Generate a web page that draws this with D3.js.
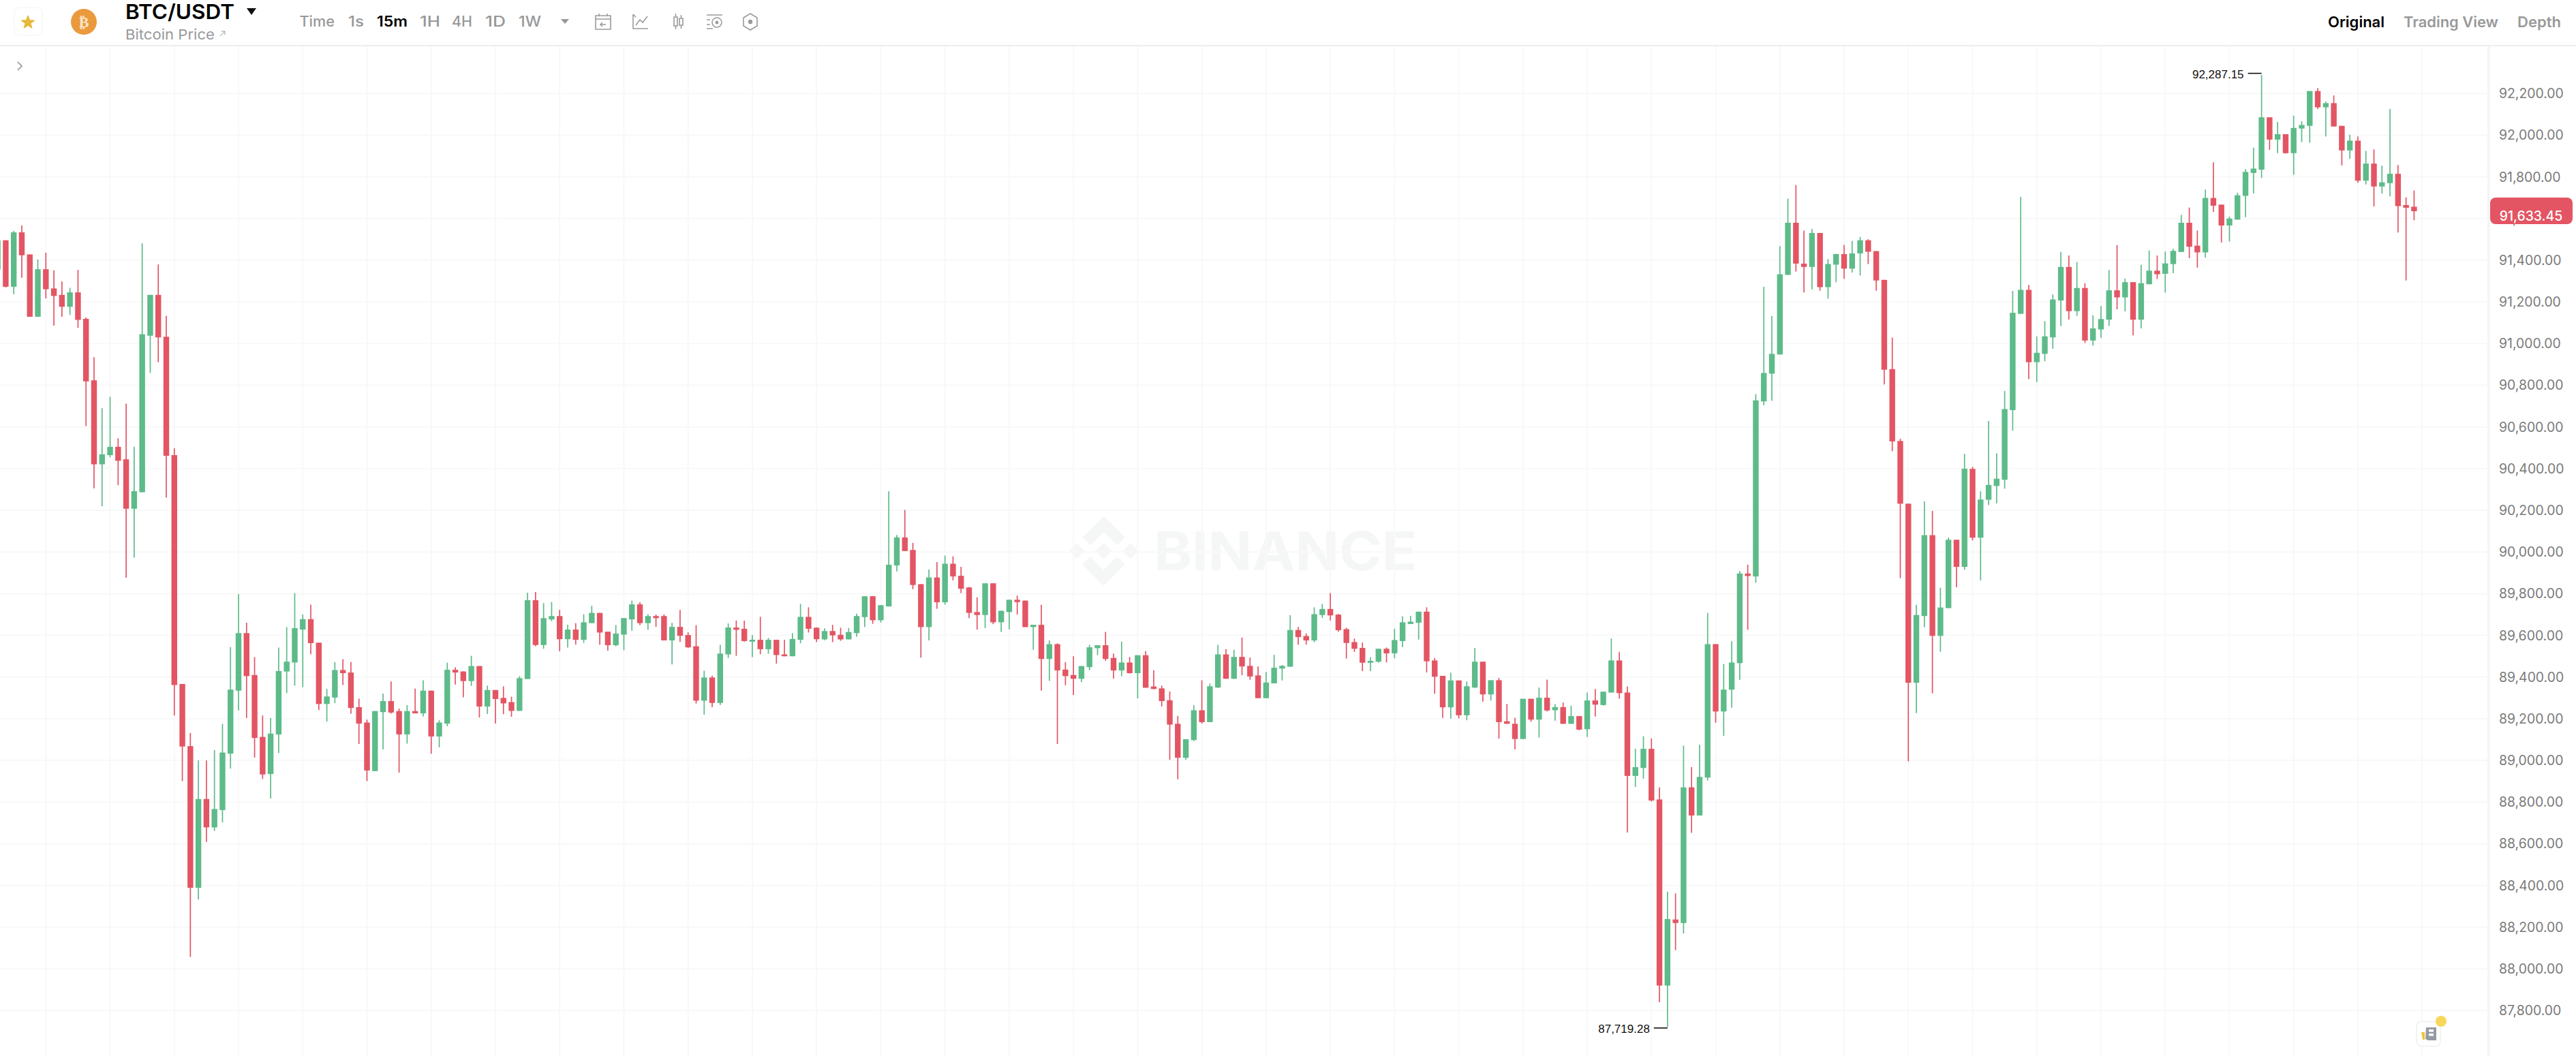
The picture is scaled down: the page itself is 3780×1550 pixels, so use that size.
<!DOCTYPE html>
<html><head><meta charset="utf-8">
<script src="https://cdn.jsdelivr.net/npm/d3@7/dist/d3.min.js"></script>
<style>html,body{margin:0;padding:0;background:#fff;overflow:hidden}svg{display:block}text{font-family:Inter,Lato,sans-serif}</style>
</head><body><svg id="c" width="3780" height="1550"></svg>
<script>
const opens=[91354,
91494,91271,91532,91426,91127,91355,91263,91232,91175,91244,
91117,90822,90419,90463,90503,90443,90206,90285,91036,91232,
91031,90463,89365,89067,88387,88813,88677,88760,89031,89333,
89609,89408,89111,88933,89123,89425,89468,89626,89676,89563,
89269,89300,89432,89420,89254,89180,88947,89230,89283,89235,
89123,89235,89224,89333,89113,89175,89433,89425,89379,89451,
89257,89336,89298,89278,89236,89389,89767,89552,89675,89691,
89580,89626,89577,89657,89706,89616,89551,89602,89675,89747,
89657,89691,89691,89574,89639,89600,89546,89285,89396,89274,
89507,89636,89630,89568,89577,89532,89577,89507,89498,89577,
89687,89635,89579,89619,89601,89579,89609,89686,89786,89671,
89737,89934,90068,90008,89844,89638,89876,89757,89942,89884,
89828,89710,89696,89848,89661,89710,89769,89765,89638,89649,
89485,89556,89434,89408,89390,89446,89537,89551,89490,89430,
89468,89417,89503,89353,89344,89287,89174,89011,89096,89239,
89182,89348,89507,89390,89495,89452,89406,89297,89368,89439,
89448,89624,89595,89574,89696,89725,89698,89628,89566,89538,
89467,89472,89534,89512,89571,89653,89659,89712,89478,89404,
89253,89382,89215,89348,89472,89315,89383,89186,89174,89101,
89294,89194,89299,89239,89254,89174,89211,89148,89286,89264,
89324,89478,89324,88924,88962,89054,88811,87918,88235,88218,
88869,88734,88916,89556,89233,89338,89465,89895,89881,90721,
90854,90946,91328,91578,91382,91366,91529,91269,91377,91428,
91358,91431,91494,91442,91304,90876,90531,90230,89371,89691,
90079,89596,89729,90057,89927,90397,90067,90249,90315,90345,
90679,91141,91256,90909,90949,91028,91205,91366,91154,91265,
91013,91066,91113,91254,91220,91293,91113,91283,91348,91333,
91380,91438,91578,91468,91436,91697,91665,91565,91593,91707,
91817,91833,92084,91977,92003,91912,92030,92043,92210,92132,
92152,92043,91925,91972,91780,91862,91752,91768,91813,91663,
91655];
const closes=[91494,
91271,91532,91422,91127,91355,91259,91227,91175,91244,91112,
90817,90419,90467,90503,90436,90206,90290,91043,91232,91028,
90460,89360,89065,88387,88813,88677,88765,89036,89338,89609,
89403,89106,88931,89127,89427,89472,89633,89676,89561,89269,
89305,89432,89417,89250,89175,88950,89235,89283,89228,89123,
89235,89224,89333,89113,89180,89433,89420,89379,89451,89257,
89336,89293,89272,89236,89393,89767,89552,89681,89691,89580,
89626,89577,89661,89706,89612,89551,89607,89681,89747,89657,
89691,89681,89574,89639,89596,89541,89285,89396,89274,89511,
89636,89625,89571,89577,89532,89577,89504,89498,89581,89687,
89630,89580,89619,89598,89579,89614,89691,89786,89671,89743,
89937,90068,90003,89840,89638,89876,89757,89942,89881,89822,
89706,89696,89848,89661,89716,89769,89758,89638,89649,89485,
89556,89430,89403,89390,89451,89541,89551,89485,89430,89468,
89417,89503,89347,89341,89283,89170,89011,89100,89239,89182,
89354,89507,89390,89495,89449,89401,89297,89372,89443,89452,
89624,89590,89574,89700,89725,89694,89623,89562,89534,89467,
89476,89534,89512,89576,89661,89664,89712,89474,89400,89253,
89382,89215,89354,89472,89315,89383,89182,89174,89101,89294,
89194,89299,89238,89254,89174,89211,89146,89286,89266,89328,
89478,89321,88924,88966,89054,88806,87918,88237,88218,88869,
88734,88919,89556,89233,89338,89468,89895,89883,90726,90857,
90949,91331,91578,91382,91366,91529,91269,91380,91428,91358,
91431,91494,91439,91301,90873,90529,90230,89371,89696,90079,
89596,89732,90057,89927,90398,90067,90250,90320,90350,90684,
91146,91256,90909,90954,91033,91210,91366,91154,91265,91013,
91071,91116,91254,91220,91293,91113,91288,91348,91331,91383,
91443,91578,91463,91436,91697,91660,91565,91598,91710,91822,
91838,92084,91977,92003,91912,92033,92047,92210,92132,92152,
92040,91925,91972,91780,91862,91752,91772,91813,91658,91650,
91633.45];
const highs=[91510,
91494,91539,91566,91426,91402,91434,91350,91297,91266,91352,
91124,90933,90688,90743,90544,90710,90503,91479,91232,91378,
91132,90496,89365,89130,88998,88998,89048,89173,89542,89796,
89659,89494,89214,89202,89540,89638,89801,89698,89746,89563,
89341,89470,89484,89470,89295,89194,89235,89319,89377,89247,
89264,89343,89383,89333,89191,89467,89445,89425,89500,89451,
89357,89336,89354,89304,89403,89803,89806,89753,89758,89721,
89649,89657,89700,89740,89706,89616,89648,89681,89765,89757,
89700,89698,89699,89658,89720,89613,89647,89429,89405,89553,
89656,89670,89669,89600,89687,89586,89577,89577,89609,89749,
89733,89637,89632,89649,89635,89634,89702,89786,89786,89743,
90290,90080,90200,90042,89844,89914,89950,89981,89977,89927,
89831,89781,89848,89848,89716,89769,89789,89765,89649,89745,
89574,89560,89470,89498,89451,89553,89551,89615,89511,89568,
89495,89503,89523,89431,89357,89329,89212,89100,89263,89383,
89367,89553,89532,89529,89588,89492,89449,89422,89505,89456,
89695,89639,89608,89733,89749,89801,89701,89635,89583,89564,
89494,89534,89540,89630,89689,89692,89712,89733,89490,89404,
89419,89382,89377,89538,89472,89383,89394,89269,89203,89294,
89294,89348,89386,89269,89276,89261,89211,89324,89341,89328,
89583,89518,89353,89054,89114,89104,88869,88369,88360,89069,
88966,89073,89706,89556,89461,89570,89907,89937,90756,91271,
91130,91466,91694,91759,91540,91548,91529,91404,91428,91472,
91491,91510,91499,91442,91304,91027,90542,90230,89745,90241,
90195,89827,90068,90057,90469,90407,90289,90627,90472,90771,
91251,91702,91280,91033,91106,91234,91438,91421,91390,91288,
91134,91178,91351,91471,91310,91293,91376,91445,91421,91440,
91453,91616,91651,91541,91737,91868,91665,91608,91722,91835,
91938,92287.15,92084,92062,92003,92092,92065,92210,92224,92160,
92189,92043,92000,91992,91923,91930,91852,92124,91855,91700,
91733];
const lows=[91300,
91268,91235,91314,91127,91127,91215,91084,91127,91136,91074,
90602,90304,90218,90453,90319,89875,89971,90285,90858,90909,
90259,89214,88899,88056,88331,88607,88660,88701,88959,89238,
89202,89012,88909,88816,89034,89321,89357,89350,89508,89240,
89185,89273,89360,89223,89077,88899,88947,89051,89223,88940,
89079,89224,89209,89030,89061,89162,89362,89301,89356,89204,
89221,89175,89220,89208,89236,89389,89546,89534,89666,89522,
89540,89554,89562,89657,89554,89524,89546,89527,89621,89648,
89625,89639,89574,89459,89567,89537,89271,89218,89254,89264,
89490,89500,89568,89494,89508,89510,89463,89498,89498,89560,
89612,89566,89575,89566,89572,89579,89591,89639,89654,89660,
89737,89905,90003,89820,89491,89574,89726,89746,89862,89801,
89681,89626,89633,89652,89615,89627,89698,89638,89529,89333,
89380,89077,89359,89312,89374,89431,89504,89476,89391,89403,
89415,89296,89347,89340,89257,89001,88908,89002,89091,89175,
89182,89346,89390,89390,89407,89385,89297,89297,89368,89382,
89448,89554,89554,89565,89682,89670,89616,89487,89519,89427,
89427,89467,89469,89488,89541,89653,89578,89420,89318,89202,
89199,89200,89191,89345,89281,89285,89103,89174,89051,89101,
89184,89108,89233,89189,89174,89174,89143,89111,89209,89261,
89324,89294,88652,88871,88911,88801,87838,87719.28,88088,88168,
88651,88734,88902,89179,89116,89251,89385,89625,89851,90702,
90724,90946,91328,91344,91244,91258,91252,91214,91293,91309,
91339,91325,91380,91252,90802,90482,89873,88994,89225,89637,
89320,89520,89729,89829,89913,90054,89862,90224,90232,90302,
90581,91141,90828,90813,90914,90973,91083,91114,91131,91001,
90989,91026,91083,91163,91153,91038,91071,91283,91308,91243,
91336,91438,91408,91363,91411,91630,91483,91488,91593,91605,
91718,91793,91928,91912,91910,91808,91965,91962,92124,91992,
92040,91853,91885,91770,91762,91656,91718,91705,91531,91301,
91590];
const priceTicks=[92200,92000,91800,91600,91400,91200,91000,90800,90600,90400,90200,90000,89800,89600,89400,89200,89000,88800,88600,88400,88200,88000,87800];
const lastPrice=91633.45, maxPrice=92287.15, minPrice=87719.28;
const intervals=["Time","1s","15m","1H","4H","1D","1W"];
const views=["Original","Trading View","Depth"];
const symbolName="BTC/USDT", subName="Bitcoin Price", watermark="BINANCE";

const GREEN="#5dbb89",RED="#e35563",GRID="#f8f8f9",GRAY="#989898";
const svg=d3.select("#c");
const n=Math.min(opens.length,highs.length,lows.length,closes.length);
const x=d3.scaleLinear().domain([1,301]).range([8.4,3542.4]);
const y=d3.scaleLinear().domain([87800,92200]).range([1482.7,136.7]);
const plotTop=67,plotBottom=1550,axisX=3652;

// watermark
const wm=svg.append("g");
wm.append("path").attr("transform","translate(1568.5,757.7) scale(0.806)").attr("fill","#f5f6f6")
 .attr("d","M38.73 53.2l24.59-24.58 24.6 24.6 14.3-14.31L63.32 0 24.42 38.9zM0 63.31l14.3-14.31 14.31 14.31-14.31 14.3zM38.73 73.41l24.59 24.59 24.6-24.6 14.31 14.29-38.9 38.91-38.91-38.88-.02-.02zM98 63.31l14.3-14.31 14.31 14.3-14.31 14.32zM77.83 63.3L63.32 48.78 52.59 59.51l-1.24 1.23-2.54 2.54 14.51 14.5 14.51-14.5z");
wm.append("text").attr("x",1693).attr("y",837).attr("font-size",79).attr("font-weight",700).attr("fill","#f5f6f6")
 .attr("textLength",386).attr("lengthAdjust","spacingAndGlyphs").text(watermark);

// grid
const gridIdx=d3.range(6,303,8);
svg.append("g").selectAll("line").data(gridIdx).join("line")
 .attr("x1",d=>x(d)).attr("x2",d=>x(d)).attr("y1",plotTop).attr("y2",plotBottom).attr("stroke",GRID).attr("stroke-width",2);
svg.append("g").attr("class","hgrid").attr("transform",`translate(${axisX},0)`)
 .call(d3.axisLeft(y).tickValues(priceTicks).tickSize(axisX).tickFormat(""))
 .call(g=>g.select(".domain").remove())
 .call(g=>g.selectAll("line").attr("stroke",GRID).attr("stroke-width",2));
svg.append("rect").attr("x",axisX-2).attr("y",plotTop).attr("width",3.5).attr("height",plotBottom-plotTop).attr("fill","#f5f5f6");

// candles
const idx=d3.range(n);
const col=i=>closes[i]>=opens[i]?GREEN:RED;
const cg=svg.append("g");
cg.selectAll("line.w").data(idx).join("line").attr("class","w")
 .attr("x1",i=>x(i)).attr("x2",i=>x(i)).attr("y1",i=>y(highs[i])).attr("y2",i=>y(lows[i]))
 .attr("stroke",col).attr("stroke-width",1.7);
const bw=8.4;
cg.selectAll("rect.b").data(idx).join("rect").attr("class","b")
 .attr("x",i=>x(i)-bw/2).attr("width",bw)
 .attr("y",i=>y(Math.max(opens[i],closes[i])))
 .attr("height",i=>Math.max(2,Math.abs(y(opens[i])-y(closes[i]))))
 .attr("fill",col);

// axis
svg.append("g").attr("transform","translate(3667,0)")
 .call(d3.axisRight(y).tickValues(priceTicks).tickSize(0).tickPadding(0).tickFormat(d3.format(",.2f")))
 .call(g=>g.select(".domain").remove())
 .call(g=>g.selectAll("text").attr("font-size",19.4).attr("fill","#7a7a7a").attr("dy","0.36em").style("font-family","Inter"));

// last price tag
const tagY=y(lastPrice);
svg.append("rect").attr("x",3654).attr("y",tagY-20).attr("width",121).attr("height",39).attr("rx",8).attr("fill",RED);
svg.append("text").attr("x",3714).attr("y",tagY+14).attr("text-anchor","middle").attr("font-size",19.4).attr("fill","#fff").attr("font-weight",500).text(d3.format(",.2f")(lastPrice));

// extreme annotations
function note(i,price,off,txtOff){
 const xx=x(i),yy=y(price)+off;
 svg.append("line").attr("x1",xx-20).attr("x2",xx).attr("y1",yy).attr("y2",yy).attr("stroke","#111").attr("stroke-width",1.6);
 svg.append("text").attr("x",xx-26).attr("y",yy+txtOff).attr("text-anchor","end").attr("font-size",17).attr("fill","#111")
  .style("font-family","Liberation Sans").text(d3.format(",.2f")(price));
}
note(highs.indexOf(maxPrice),maxPrice,-2.4,7);
note(lows.indexOf(minPrice),minPrice,1.5,7);

// header
svg.append("rect").attr("x",0).attr("y",66).attr("width",3780).attr("height",2.2).attr("fill","#eeeeee");
svg.append("rect").attr("x",21).attr("y",11).attr("width",41).attr("height",41).attr("rx",8).attr("fill","#fff").attr("stroke","#f3f3f3").attr("stroke-width",1);
const star=d3.symbol().type(d3.symbolStar).size(95)();
svg.append("path").attr("d",star).attr("transform","translate(41,33)").attr("fill","#e8b93c").attr("stroke","#e8b93c").attr("stroke-width",2).attr("stroke-linejoin","round");
svg.append("circle").attr("cx",123).attr("cy",32).attr("r",19).attr("fill","#ea9a3c");
svg.append("text").attr("x",123).attr("y",40).attr("text-anchor","middle").attr("font-size",22).attr("font-weight",700).attr("fill","#fbe6c8").style("font-family","DejaVu Sans").text("₿");
svg.append("text").attr("x",184).attr("y",28).attr("font-size",30).attr("font-weight",600).attr("fill","#000").attr("textLength",160).attr("lengthAdjust","spacingAndGlyphs").text(symbolName);
svg.append("path").attr("d","M362,12 L376,12 L369,22 Z").attr("fill","#111");
svg.append("text").attr("x",184).attr("y",58).attr("font-size",20.5).attr("fill",GRAY).attr("textLength",131).attr("lengthAdjust","spacingAndGlyphs").text(subName);
svg.append("path").attr("d","M323,53 L330,46 M325,46 L330,46 L330,51").attr("stroke",GRAY).attr("stroke-width",1).attr("fill","none");

const ivX=[439.5,511,553,616,663,712,761], ivW=[51.5,23,45,30,30,30,33];
svg.append("g").selectAll("text").data(intervals).join("text")
 .attr("x",(d,i)=>ivX[i]).attr("y",39).attr("font-size",21.5).attr("textLength",(d,i)=>ivW[i]).attr("lengthAdjust","spacingAndGlyphs")
 .attr("font-weight",d=>d==="15m"?600:500).attr("fill",d=>d==="15m"?"#000":GRAY).text(d=>d);
svg.append("path").attr("d","M823,28 L835,28 L829,35 Z").attr("fill",GRAY);

// toolbar icons
const ic=svg.append("g").attr("fill","none").attr("stroke","#9a9a9a").attr("stroke-width",1.6);
ic.append("path").attr("d","M874,23 H896 V43 H874 Z M874,28 H896 M879,20 V24 M891,20 V24 M889,36 H881 M884,33 L881,36 L884,39");
ic.append("path").attr("d","M929,21 V42 H951 M933,37 L939,29 L943,33 L950,24 M929,21 L933,25");
ic.append("path").attr("d","M989,25 H994 V38 H989 Z M997,27 H1002 V37 H997 Z M991.5,20 V25 M991.5,38 V43 M999.5,22 V27 M999.5,37 V42");
ic.append("path").attr("d","M1037,22 H1060 M1037,29 H1042 M1037,36 H1042 M1037,42 H1046 M1045,33 a7,7 0 1 0 14,0 a7,7 0 1 0 -14,0");
ic.append("circle").attr("cx",1052).attr("cy",33).attr("r",1.6).attr("fill","#9a9a9a");
ic.append("path").attr("d","M1101,20 L1111,26 V38 L1101,44 L1091,38 V26 Z");
ic.append("circle").attr("cx",1101).attr("cy",32).attr("r",2.4).attr("fill","#9a9a9a");

// right tabs
const tabX=[3416,3527,3694],tabW=[83,139,64];
svg.append("g").selectAll("text").data(views).join("text")
 .attr("x",(d,i)=>tabX[i]).attr("y",40).attr("font-size",22).attr("font-weight",600)
 .attr("textLength",(d,i)=>tabW[i]).attr("lengthAdjust","spacingAndGlyphs")
 .attr("fill",d=>d==="Original"?"#000":"#999").text(d=>d);

// collapse chevron
svg.append("path").attr("d","M26,91 L32,97 L26,103").attr("fill","none").attr("stroke","#a8a8a8").attr("stroke-width",2);

// news badge
svg.append("rect").attr("x",3546).attr("y",1499.5).attr("width",35).attr("height",36).attr("rx",7).attr("fill","#fff").attr("stroke","#f0f0f0").attr("stroke-width",1.5);
svg.append("path").attr("d","M3560,1508 H3575 V1527 H3563 L3559,1525 Z").attr("fill","#959aa3");
svg.append("rect").attr("x",3564).attr("y",1511).attr("width",7).attr("height",3.5).attr("fill","#fff");
svg.append("rect").attr("x",3564).attr("y",1517).attr("width",7).attr("height",3.5).attr("fill","#fff");
svg.append("path").attr("d","M3553,1515 H3558 V1526 H3555 Z").attr("fill","#f0c23a");
svg.append("circle").attr("cx",3582).attr("cy",1499).attr("r",8).attr("fill","#f7d65a");
</script></body></html>
